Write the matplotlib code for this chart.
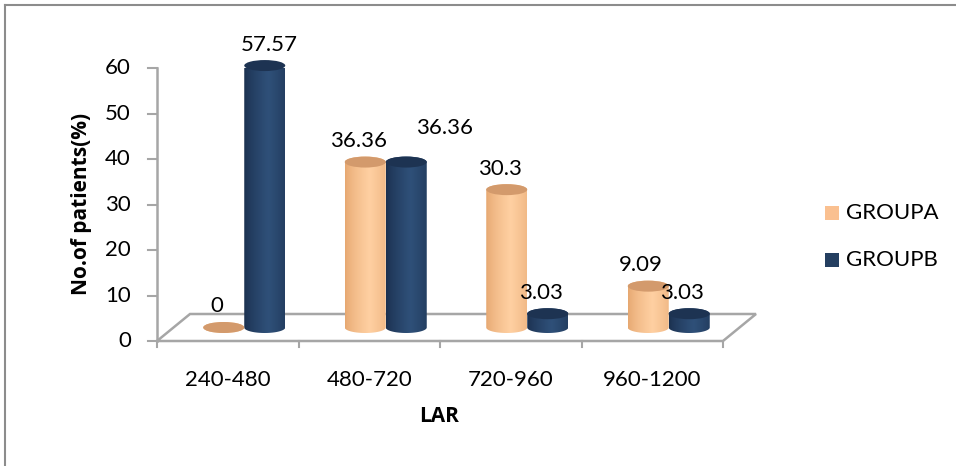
import numpy as np
import matplotlib
matplotlib.use("Agg")
import matplotlib.pyplot as plt
from matplotlib.patches import Ellipse, Polygon, Rectangle
from matplotlib.lines import Line2D

# data
categories = ["240-480", "480-720", "720-960", "960-1200"]
group_a = [0, 36.36, 30.3, 9.09]
group_b = [57.57, 36.36, 3.03, 3.03]
series_names = ["GROUPA", "GROUPB"]
y_ticks = [0, 10, 20, 30, 40, 50, 60]

plt.rcParams['font.family'] = ['Lato', 'DejaVu Sans']
FS = 16

W, H = 956, 466
fig = plt.figure(figsize=(W / 100, H / 100), dpi=100)

# front plane of the plot (pixel box of the reference)
left_px, right_px, top_px, bot_px = 157, 723, 68, 341
ax = fig.add_axes([left_px / W, 1 - bot_px / H, (right_px - left_px) / W, (bot_px - top_px) / H])
ax.set_xlim(0, len(categories))
ax.set_ylim(0, 60)
ax.axis("off")

px_x = len(categories) / (right_px - left_px)   # data units per pixel
px_y = 60 / (bot_px - top_px)
depth_x, depth_y = 33 * px_x, 27 * px_y          # floor depth
mid_x, mid_y = depth_x / 2, depth_y / 2

grey = "#A6A6A6"
# floor
floor = Polygon([(0, 0), (4, 0), (4 + depth_x, depth_y), (depth_x, depth_y)],
                closed=True, fill=False, edgecolor=grey, lw=1.8, clip_on=False)
ax.add_patch(floor)
# y axis with ticks
ax.plot([0, 0], [0, 60], color=grey, lw=1.8, clip_on=False)
for t in y_ticks:
    ax.plot([-9 * px_x, 0], [t, t], color=grey, lw=1.5, clip_on=False)
    ax.text(-26 * px_x, t, str(t), ha="right", va="center", fontsize=FS)
# x ticks at boundaries
for i in range(len(categories) + 1):
    ax.plot([i, i], [0, -6 * px_y], color=grey, lw=1.5, clip_on=False)
for i, c in enumerate(categories):
    ax.text(i + 0.5, -39 * px_y, c, ha="center", va="center", fontsize=FS)

ax.text((439 - left_px) * px_x, -75 * px_y, "LAR", ha="center", va="center",
        fontsize=15, fontweight="bold", family=["Open Sans", "DejaVu Sans"])
fig.text(82 / W, 1 - 204 / H, "No.of patients(%)", rotation=90, ha="center", va="center",
         fontsize=15, fontweight="bold", family=["Open Sans", "DejaVu Sans"])

bar_w = 41 * px_x
ell_h = 11 * px_y

palette = {
    "GROUPA": dict(dark="#E5A66F", light="#FFD0A2", top="#D39A6C", legend="#FAC090"),
    "GROUPB": dict(dark="#1A2F4D", light="#2F5079", top="#1D3352", legend="#243F60"),
}


def cylinder(x0, value, cols):
    base = mid_y
    top = mid_y + value
    cx = x0 + bar_w / 2
    a, b = bar_w / 2, ell_h / 2
    th = np.linspace(np.pi, 2 * np.pi, 60)
    low = [(cx + a * np.cos(t), base + b * np.sin(t)) for t in th]
    th2 = np.linspace(0, np.pi, 60)
    upp = [(cx + a * np.cos(t), top + b * np.sin(t)) for t in th2]
    body = Polygon(low + upp, closed=True, facecolor="none", edgecolor="none", clip_on=False)
    ax.add_patch(body)
    # horizontal shading
    g = np.linspace(0, 1, 200)
    shade = np.clip(1 - np.abs(g - 0.6) / 0.6, 0, 1) ** 0.7
    c0 = np.array(matplotlib.colors.to_rgb(cols["dark"]))
    c1 = np.array(matplotlib.colors.to_rgb(cols["light"]))
    img = c0[None, :] + (c1 - c0)[None, :] * shade[:, None]
    im = ax.imshow(img[None, :, :], extent=(x0, x0 + bar_w, base - b, top + b),
                   aspect="auto", zorder=2, interpolation="bilinear")
    im.set_clip_path(body)
    ax.add_patch(Ellipse((cx, top), bar_w, ell_h, facecolor=cols["top"],
                         edgecolor="none", zorder=3, clip_on=False))


# label placement tweaks (pixels), Excel nudges overlapping labels
label_nudge = {(1, 1): (45, 13), (0, 1): (12, 0)}

for i in range(len(categories)):
    start = i + 0.5 + mid_x - bar_w
    for s, vals in enumerate([group_a, group_b]):
        x0 = start + s * bar_w
        v = vals[i]
        cylinder(x0, v, palette[series_names[s]])
        dx, dy = label_nudge.get((i, s), (0, 0))
        ax.text(x0 + bar_w / 2 + (-7 + dx) * px_x, mid_y + v + (21 + dy) * px_y, f"{v:g}",
                ha="center", va="center", fontsize=FS, zorder=5, clip_on=False)

ax.set_xlim(0, len(categories))
ax.set_ylim(0, 60)

# legend
for s, name in enumerate(series_names):
    yy = 1 - (213 + s * 47) / H
    fig.patches.append(Rectangle((825 / W, yy - 7 / H), 14 / W, 14 / H,
                                 transform=fig.transFigure, facecolor=palette[name]["legend"],
                                 edgecolor="none"))
    fig.text(846 / W, yy, name, ha="left", va="center", fontsize=FS)

# outer chart border (top and left edges visible)
fig.add_artist(Line2D([5 / W, 5 / W], [0, 1 - 5 / H], color="#8C8C8C", lw=1.5,
                      transform=fig.transFigure))
fig.add_artist(Line2D([5 / W, 1], [1 - 5 / H, 1 - 5 / H], color="#8C8C8C", lw=1.5,
                      transform=fig.transFigure))

fig.savefig("out.png", dpi=100, facecolor="white")
